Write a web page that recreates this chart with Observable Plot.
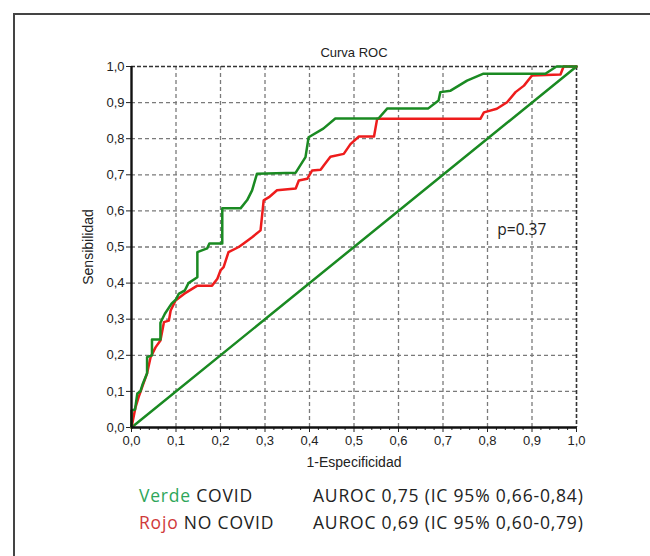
<!DOCTYPE html>
<html>
<head>
<meta charset="utf-8">
<script src="https://cdn.jsdelivr.net/npm/d3@7"></script>
<script src="https://cdn.jsdelivr.net/npm/@observablehq/plot@0.6"></script>
<style>
  html, body { margin: 0; padding: 0; background: #fff; }
  #page { position: relative; width: 650px; height: 556px; overflow: hidden; }
  #frame { position: absolute; left: 13px; top: 13px; width: 700px; height: 600px;
           border-left: 2px solid #444; border-top: 2px solid #444; }
  #chart { position: absolute; left: 0; top: 0; }
  .leg { position: absolute; font-family: "Open Sans", sans-serif; font-size: 17.5px; letter-spacing: 0.8px; color: #222; white-space: nowrap; line-height: 20px; }
</style>
</head>
<body>
<div id="page">
  <div id="frame"></div>
  <div id="chart"></div>
  <div class="leg" style="left:139px; top:485px;"><span style="color:#2ea65a">Verde</span> COVID</div>
  <div class="leg" style="left:313px; top:485px;">AUROC 0,75 (IC 95% 0,66-0,84)</div>
  <div class="leg" style="left:139px; top:512px;"><span style="color:#d03a3a">Rojo</span> NO COVID</div>
  <div class="leg" style="left:313px; top:512px;">AUROC 0,69 (IC 95% 0,60-0,79)</div>
</div>
<script>
// COVID (green) ROC curve
const fprCovid = [0, 0, 0.008, 0.013, 0.02, 0.025, 0.035, 0.035, 0.046, 0.046, 0.065, 0.065, 0.075, 0.09, 0.1, 0.106, 0.12, 0.128, 0.148, 0.148, 0.17, 0.175, 0.204, 0.204, 0.245, 0.26, 0.271, 0.282, 0.369, 0.391, 0.398, 0.431, 0.458, 0.555, 0.575, 0.667, 0.69, 0.694, 0.717, 0.754, 0.791, 0.93, 0.955, 1];
const tprCovid = [0, 0.047, 0.05, 0.094, 0.1, 0.12, 0.15, 0.195, 0.2, 0.244, 0.244, 0.29, 0.315, 0.343, 0.355, 0.37, 0.38, 0.40, 0.416, 0.486, 0.496, 0.51, 0.51, 0.607, 0.607, 0.63, 0.657, 0.703, 0.706, 0.749, 0.804, 0.828, 0.856, 0.856, 0.884, 0.884, 0.906, 0.929, 0.933, 0.961, 0.98, 0.98, 1.0, 1.0];
// NO COVID (red) ROC curve
const fprNoCovid = [0, 0.009, 0.016, 0.024, 0.035, 0.043, 0.054, 0.065, 0.073, 0.084, 0.088, 0.099, 0.118, 0.148, 0.181, 0.193, 0.2, 0.207, 0.218, 0.241, 0.252, 0.271, 0.29, 0.297, 0.309, 0.327, 0.369, 0.376, 0.395, 0.406, 0.425, 0.432, 0.447, 0.477, 0.492, 0.511, 0.545, 0.552, 0.784, 0.792, 0.821, 0.844, 0.863, 0.882, 0.9, 0.964, 0.971, 1];
const tprNoCovid = [0, 0.056, 0.084, 0.112, 0.15, 0.195, 0.222, 0.241, 0.292, 0.296, 0.324, 0.352, 0.37, 0.393, 0.393, 0.412, 0.435, 0.444, 0.486, 0.5, 0.51, 0.527, 0.546, 0.629, 0.638, 0.657, 0.662, 0.684, 0.689, 0.712, 0.714, 0.726, 0.75, 0.758, 0.785, 0.806, 0.806, 0.855, 0.855, 0.873, 0.883, 0.901, 0.929, 0.947, 0.975, 0.978, 1.0, 1.0];
// reference diagonal
const diagX = [0, 1];
const diagY = [0, 1];
// ticks
const majorTicks = [0, 0.1, 0.2, 0.3, 0.4, 0.5, 0.6, 0.7, 0.8, 0.9, 1.0];
const gridTicks = [0.1, 0.2, 0.3, 0.4, 0.5, 0.6, 0.7, 0.8, 0.9];
const minorTicks = [0.02, 0.04, 0.06, 0.08, 0.12, 0.14, 0.16, 0.18, 0.22, 0.24, 0.26, 0.28, 0.32, 0.34, 0.36, 0.38, 0.42, 0.44, 0.46, 0.48, 0.52, 0.54, 0.56, 0.58, 0.62, 0.64, 0.66, 0.68, 0.72, 0.74, 0.76, 0.78, 0.82, 0.84, 0.86, 0.88, 0.92, 0.94, 0.96, 0.98];
const title = "Curva ROC";
const xLabel = "1-Especificidad";
const yLabel = "Sensibilidad";
const pLabel = "p=0.37";

const covid = fprCovid.map((x, i) => ({x, y: tprCovid[i]}));
const noCovid = fprNoCovid.map((x, i) => ({x, y: tprNoCovid[i]}));
const diag = diagX.map((x, i) => ({x, y: diagY[i]}));
const fmt = d => d3.format(".1f")(d).replace(".", ",");

const chart = Plot.plot({
  width: 650,
  height: 480,
  marginLeft: 131,
  marginRight: 74,
  marginTop: 66,
  marginBottom: 53,
  x: {domain: [0, 1], label: null},
  y: {domain: [0, 1], label: null},
  style: {fontFamily: "'Liberation Sans', Arial, sans-serif", fontSize: "13px", background: "transparent", color: "#222"},
  marks: [
    Plot.gridX(gridTicks, {stroke: "#7a7a7a", strokeOpacity: 1, strokeWidth: 1.3, strokeDasharray: "4,3"}),
    Plot.gridY(gridTicks, {stroke: "#7a7a7a", strokeOpacity: 1, strokeWidth: 1.3, strokeDasharray: "4,3"}),
    Plot.ruleY([1], {stroke: "#333", strokeWidth: 1.6, strokeDasharray: "4,2"}),
    Plot.ruleX([1], {stroke: "#333", strokeWidth: 1.6, strokeDasharray: "4,2"}),
    Plot.axisX({ticks: minorTicks, tickSize: 3, tickFormat: () => "", label: null, stroke: "#222"}),
    Plot.axisX({ticks: majorTicks, tickSize: 5, tickPadding: 3, tickFormat: fmt, label: null, stroke: "#222", fontSize: 13}),
    Plot.axisY({ticks: majorTicks, tickSize: 5, tickPadding: 2, tickFormat: fmt, label: null, stroke: "#222", fontSize: 13}),
    Plot.line(diag, {x: "x", y: "y", stroke: "#1a8a22", strokeWidth: 2.5}),
    Plot.line(noCovid, {x: "x", y: "y", stroke: "#ee1c1c", strokeWidth: 2.5}),
    Plot.line(covid, {x: "x", y: "y", stroke: "#1a8a22", strokeWidth: 2.5}),
    Plot.ruleX([0], {stroke: "#111", strokeWidth: 2.4}),
    Plot.ruleY([0], {stroke: "#111", strokeWidth: 2.4}),
    Plot.text([title], {frameAnchor: "top", dy: -19, fontSize: 13, fill: "#222"}),
    Plot.text([xLabel], {frameAnchor: "bottom", dy: 39, fontSize: 14, fill: "#222"}),
    Plot.text([yLabel], {frameAnchor: "left", dx: -43, rotate: -90, textAnchor: "middle", fontSize: 14, fill: "#222"}),
    Plot.text([pLabel], {x: 0.822, y: 0.546, textAnchor: "start", fontSize: 15.5, fontFamily: "'Open Sans', sans-serif", fill: "#222"})
  ]
});
document.getElementById("chart").appendChild(chart);
</script>
</body>
</html>
